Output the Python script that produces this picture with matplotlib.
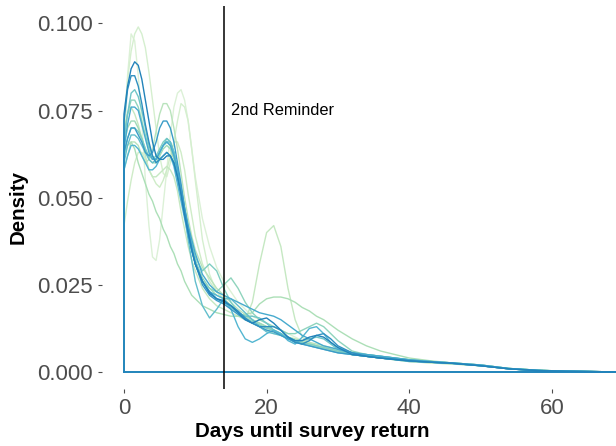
import numpy as np
import matplotlib.pyplot as plt

plt.rcParams['font.family'] = ['Liberation Sans', 'DejaVu Sans']

days = ([i / 2 for i in range(21)] + list(range(11, 31))
        + [32, 34, 36, 38, 40, 43, 46, 50, 54, 58, 62, 66, 70])

# density values x 1000, one list per survey wave (light -> dark)
# rows: days 0-10 (half days), 11-20, 21-30, 32-40, 43-70
w01 = [60, 85, 97, 95, 85, 72, 55, 42, 33, 32, 38, 48, 58, 68, 76, 80, 81, 78, 72, 64, 56,
       44, 36, 30, 26, 23, 20, 18, 16, 15, 14,
       13, 12, 11, 10, 9, 8, 7.5, 7, 6.5, 6,
       5.5, 5, 4.5, 4, 3.5,
       3, 2.6, 2, 1, 0.5, 0.2, 0.1, 0]
w02 = [72, 84, 92, 97, 99, 97, 93, 86, 78, 70, 62, 57, 56, 60, 66, 72, 77, 76, 72, 64, 55,
       38, 28, 23, 21, 19, 17, 16, 15, 14, 13,
       12, 11, 10, 9, 8.5, 8, 7.5, 7, 6.5, 6,
       5, 4.5, 4, 3.6, 3.2,
       2.8, 2.4, 1.8, 0.9, 0.4, 0.2, 0.1, 0]
w03 = [42, 49, 55, 60, 63, 63, 61, 58, 56, 54, 53, 55, 58, 62, 66, 66, 63, 58, 51, 45, 39,
       31, 26, 23, 21, 19, 17, 15, 14, 13, 12,
       11, 10.5, 10, 9, 8.5, 8, 7.5, 7, 6.5, 6,
       5, 4.5, 4, 3.5, 3,
       2.6, 2.3, 1.8, 1, 0.5, 0.2, 0.1, 0]
w04 = [70, 74, 76, 74, 71, 67, 62, 58, 56, 56, 57, 58, 59, 58, 56, 52, 46, 41, 36, 32, 29,
       24, 21, 19, 18, 17, 16, 15, 20, 31, 40,
       42, 36, 24, 15, 10, 8.5, 7.5, 7, 6.5, 6,
       5, 4.5, 4, 3.5, 3,
       2.6, 2.3, 1.8, 1, 0.5, 0.2, 0.1, 0]
w05 = [58, 62, 66, 66, 65, 62, 60, 61, 64, 69, 74, 77, 77, 75, 70, 64, 57, 50, 44, 39, 35,
       30, 27, 24, 22, 20, 18, 16.5, 15, 14, 13,
       12, 11, 10, 9.5, 9, 8.5, 8, 7.5, 7, 6.5,
       5.5, 5, 4.5, 4, 3.5,
       3, 2.6, 2, 1, 0.5, 0.2, 0.1, 0]
w06 = [62, 65, 66, 64, 60, 57, 54, 51, 49, 46, 44, 41, 39, 36, 34, 31, 29, 26, 24, 22, 21,
       19, 18, 17, 16.5, 16, 16, 16.5, 17, 19.5, 21,
       21.5, 21.5, 21, 20, 18.5, 17.5, 16, 15, 13.5, 12,
       9.5, 7.5, 6, 5, 4,
       3.2, 2.6, 2, 1, 0.5, 0.2, 0.1, 0]
w07 = [65, 70, 72, 72, 70, 67, 64, 61, 60, 60, 62, 64, 65, 64, 61, 56, 51, 46, 40, 35, 31,
       26, 24, 22, 21, 19, 17, 16, 15, 14, 13,
       12, 11, 10, 9, 8.5, 8, 7.5, 7, 6.5, 6,
       5, 4.5, 4, 3.6, 3.2,
       2.8, 2.5, 1.8, 0.9, 0.4, 0.2, 0.1, 0]
w08 = [68, 74, 78, 78, 76, 72, 68, 64, 61, 61, 63, 65, 66, 65, 62, 57, 52, 46, 41, 36, 32,
       27, 24, 23, 25, 27, 24, 20, 17, 15, 14,
       13, 12, 11, 11, 12, 13, 14, 13, 11, 9,
       6, 5, 4.5, 4, 3.5,
       3, 2.6, 2, 1, 0.5, 0.2, 0.1, 0]
w09 = [62, 67, 70, 70, 69, 67, 64, 62, 61, 62, 64, 66, 67, 66, 63, 58, 53, 47, 42, 37, 33,
       29, 31, 29, 24, 20, 17, 15.5, 14.5, 13.5, 12.5,
       12, 11, 10, 9, 8.5, 8, 7.5, 7, 6.5, 6,
       5, 4.5, 4, 3.6, 3.2,
       2.8, 2.5, 1.8, 0.9, 0.4, 0.2, 0.1, 0]
w10 = [66, 74, 80, 81, 79, 75, 70, 65, 62, 61, 63, 65, 67, 66, 63, 58, 52, 46, 41, 36, 32,
       26, 23, 21, 20, 18.5, 17, 16, 16, 15.5, 14,
       12, 10.5, 9.5, 9, 9, 9.5, 10, 9.5, 8, 6.5,
       5, 4.5, 4, 3.6, 3.2,
       2.8, 2.5, 1.8, 0.9, 0.4, 0.2, 0.1, 0]
w11 = [60, 65, 68, 68, 67, 65, 63, 61, 60, 61, 63, 65, 66, 66, 63, 58, 52, 45, 38, 32, 26,
       19, 15.5, 18, 21, 21, 19, 17, 15, 13, 11.5,
       11, 10.5, 10, 9, 8, 7.5, 7, 6.5, 6, 5.5,
       5, 4.5, 4, 3.5, 3,
       2.8, 2.4, 1.8, 0.9, 0.4, 0.2, 0.1, 0]
w12 = [58, 62, 65, 65, 64, 62, 60, 58, 58, 59, 61, 62, 63, 62, 59, 54, 49, 44, 39, 35, 31,
       26, 23, 22, 21, 18, 13, 9.5, 8.5, 9.5, 11,
       12, 11, 9, 8, 10, 12.5, 13, 11, 8.5, 7,
       5.5, 5, 4.5, 4, 3.5,
       3, 2.6, 2, 1, 0.5, 0.2, 0.1, 0]
w13 = [64, 71, 76, 76, 75, 71, 67, 63, 61, 61, 63, 65, 66, 65, 62, 58, 53, 47, 42, 38, 34,
       28, 25, 23, 22, 21, 20, 19, 18, 17, 16.5,
       16, 15, 13.5, 12, 10.5, 9.5, 8.5, 7.5, 7, 6.5,
       5.5, 5, 4.5, 4, 3.5,
       3, 2.6, 2, 1, 0.5, 0.2, 0.1, 0]
w14 = [63, 67, 70, 70, 68, 66, 63, 62, 63, 66, 70, 72, 72, 70, 66, 60, 54, 47, 41, 36, 31,
       25, 22, 20.5, 19.5, 18, 16.5, 15, 14, 13, 12,
       11.5, 10.5, 9.5, 8.5, 8, 7.5, 7, 6.5, 6, 5.5,
       5, 4.5, 4, 3.6, 3.2,
       2.8, 2.5, 1.8, 0.9, 0.4, 0.2, 0.1, 0]
w15 = [72, 81, 85, 85, 82, 77, 71, 66, 62, 60, 61, 62, 63, 62, 60, 56, 51, 45, 40, 35, 31,
       26, 23, 21, 20, 19, 17.5, 15.5, 14, 13, 13,
       13, 12, 10, 8.5, 8, 9, 10.5, 11, 9.5, 7.5,
       5.5, 4.5, 4, 3.6, 3.2,
       2.8, 2.5, 1.8, 0.9, 0.4, 0.2, 0.1, 0]
w16 = [74, 82, 87, 89, 88, 84, 78, 72, 66, 62, 61, 61, 62, 62, 60, 56, 51, 45, 40, 35, 31,
       26, 22.5, 21, 20.5, 19, 17, 15, 14, 15, 15.5,
       14, 12, 10, 9, 9, 10, 10.5, 10, 8.5, 7,
       5, 4.5, 4, 3.6, 3.2,
       2.8, 2.5, 1.8, 0.9, 0.4, 0.2, 0.1, 0]

waves = [w01, w02, w03, w04, w05, w06, w07, w08,
         w09, w10, w11, w12, w13, w14, w15, w16]

reminder_day = 14
reminder_label = '2nd Reminder'

fig = plt.figure(figsize=(6.16, 4.46), dpi=100)
ax = fig.add_axes([0.1654, 0.1269, 0.8346, 0.8596])

colors = plt.cm.GnBu(np.linspace(0.15, 0.78, len(waves)))
x = np.array(days, dtype=float)
for w, c in zip(waves, colors):
    y = np.array(w) / 1000
    # outline like a density polygon: up at the start, down at the end, baseline
    xs = np.r_[x[0], x, x[-1], x[0]]
    ys = np.r_[0, y, 0, 0]
    ax.plot(xs, ys, color=c, lw=1.0, solid_joinstyle='round')

ax.axvline(reminder_day, color='black', lw=1.1)
ax.text(reminder_day + 1, 0.075, reminder_label, ha='left', va='center', fontsize=11.8)

ax.set_xlim(-3.1, 69)
ax.set_ylim(-0.005, 0.105)
ax.set_xticks([0, 20, 40, 60])
ax.set_yticks([0, 0.025, 0.05, 0.075, 0.1])
ax.set_yticklabels(['0.000', '0.025', '0.050', '0.075', '0.100'])
for s in ax.spines.values():
    s.set_visible(False)
ax.tick_params(colors='#4D4D4D', labelcolor='#4D4D4D', labelsize=16, length=3, width=0.8)
ax.set_xlabel('Days until survey return', fontsize=14.8, fontweight='bold')
ax.set_ylabel('Density', fontsize=14.8, fontweight='bold')
ax.xaxis.set_label_coords(0.409, -0.085)
ax.yaxis.set_label_coords(-0.144, 0.476)

fig.savefig('out.png', dpi=100)
